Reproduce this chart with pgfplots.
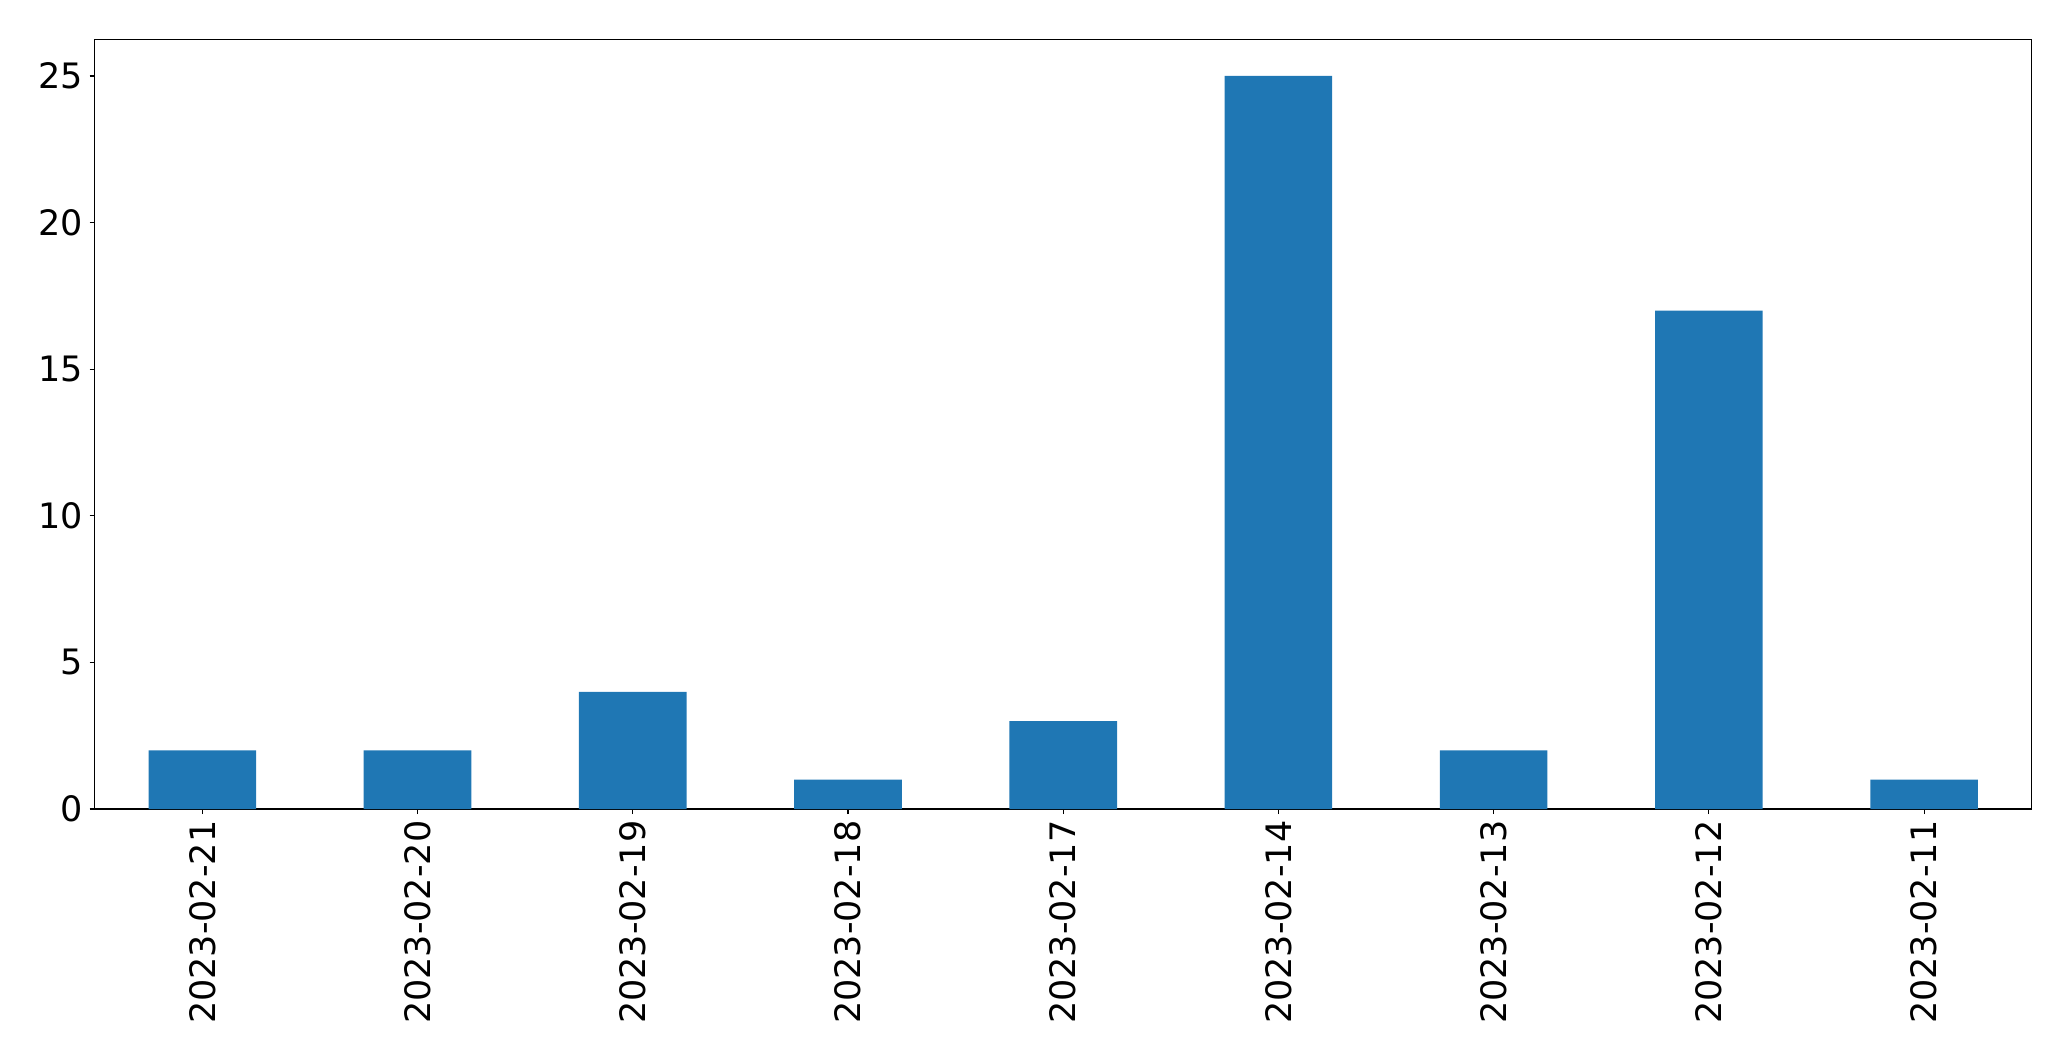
\documentclass[border=0pt]{standalone}
\usepackage{pgfplots}
\pgfplotsset{compat=1.18}
\usepackage{fontspec}
\setmainfont{DejaVu Sans}
\definecolor{mplblue}{HTML}{1F77B4}
\begin{document}
\begin{tikzpicture}
\path (-68.2pt,-181.4pt) rectangle (1422.9pt,582.5pt);
\begin{axis}[
  at={(0pt,0pt)}, anchor=south west,
  scale only axis,
  width=1394.6pt, height=554.2pt,
  xmin=-0.5, xmax=8.5, ymin=0, ymax=26.25,
  xtick={0,1,2,3,4,5,6,7,8},
  xticklabels={2023-02-21,2023-02-20,2023-02-19,2023-02-18,2023-02-17,2023-02-14,2023-02-13,2023-02-12,2023-02-11},
  ytick={0,5,10,15,20,25},
  tick align=outside, tick pos=lower,
  major tick length=3.6pt,
  every tick/.style={black, line width=0.8pt},
  axis line style={line width=0.8pt},
  /pgf/number format/assume math mode=true,
  ticklabel style={font=\fontsize{25.2}{30}\selectfont},
  xticklabel style={rotate=90, anchor=east, inner sep=4.5pt},
  yticklabel style={inner sep=4.5pt},
  clip=false,
]
\addplot[ybar, bar width=0.5, fill=mplblue, draw=none] coordinates {
(0,2) (1,2) (2,4) (3,1) (4,3) (5,25) (6,2) (7,17) (8,1)
};
\end{axis}
\end{tikzpicture}
\end{document}
